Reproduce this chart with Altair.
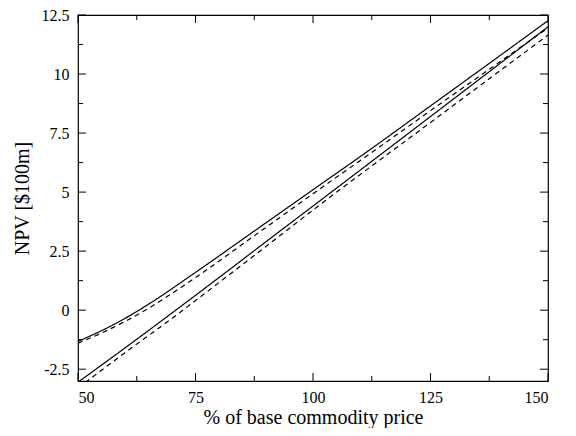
import altair as alt
import pandas as pd

# --- data ---
x_upper = [50, 55, 60, 65, 75, 87.5, 100, 112.5, 125, 137.5, 150]
upper_solid = [-1.32, -0.87, -0.35, 0.25, 1.60, 3.35, 5.10, 6.85, 8.65, 10.45, 12.26]
upper_dashed = [-1.40, -0.97, -0.48, 0.08, 1.38, 3.15, 4.93, 6.68, 8.45, 10.20, 11.95]

x_lower = [50, 60, 70, 80, 90, 100, 125, 150]
lower_solid = [-3.05, -1.60, -0.12, 1.38, 2.90, 4.41, 8.20, 12.00]
lower_dashed = [-3.30, -1.80, -0.35, 1.17, 2.70, 4.24, 7.95, 11.65]

x_major = [50, 75, 100, 125, 150]
x_minor = [62.5, 87.5, 112.5, 137.5]
y_major = [-2.5, 0, 2.5, 5, 7.5, 10, 12.5]
y_minor = [-1.25, 1.25, 3.75, 6.25, 8.75, 11.25]

W, H = 470, 366
FONT = "Liberation Serif"

rows = []
for name, xs, ys, style in [
    ("upper solid", x_upper, upper_solid, "solid"),
    ("upper dashed", x_upper, upper_dashed, "dashed"),
    ("lower solid", x_lower, lower_solid, "solid"),
    ("lower dashed", x_lower, lower_dashed, "dashed"),
]:
    for xv, yv in zip(xs, ys):
        rows.append({"x": xv, "y": yv, "series": name, "style": style})
df = pd.DataFrame(rows)

xscale = alt.Scale(domain=[50, 150], nice=False, zero=False)
yscale = alt.Scale(domain=[-3, 12.5], nice=False, zero=False)

lines = alt.Chart(df).mark_line(color="black", strokeWidth=1.2, clip=True,
                                interpolate="monotone").encode(
    x=alt.X("x:Q", scale=xscale,
            axis=alt.Axis(values=x_major, title="% of base commodity price",
                          labelPadding=8, titlePadding=2)),
    y=alt.Y("y:Q", scale=yscale,
            axis=alt.Axis(values=y_major, title="NPV [$100m]",
                          labelExpr="'' + datum.value",
                          labelPadding=9, titlePadding=9)),
    detail="series:N",
    strokeDash=alt.StrokeDash("style:N",
                              scale=alt.Scale(domain=["solid", "dashed"],
                                              range=[[1, 0], [5, 4]]),
                              legend=None),
    order="x:Q",
)

def xticks(vals, length):
    d = pd.DataFrame({"v": vals})
    bottom = alt.Chart(d).mark_rule(color="black", strokeWidth=1).encode(
        x=alt.X("v:Q", scale=xscale), y=alt.value(H), y2=alt.value(H - length))
    top = alt.Chart(d).mark_rule(color="black", strokeWidth=1).encode(
        x=alt.X("v:Q", scale=xscale), y=alt.value(0), y2=alt.value(length))
    return bottom + top

def yticks(vals, length):
    d = pd.DataFrame({"v": vals})
    left = alt.Chart(d).mark_rule(color="black", strokeWidth=1).encode(
        y=alt.Y("v:Q", scale=yscale), x=alt.value(0), x2=alt.value(length))
    right = alt.Chart(d).mark_rule(color="black", strokeWidth=1).encode(
        y=alt.Y("v:Q", scale=yscale), x=alt.value(W), x2=alt.value(W - length))
    return left + right

chart = alt.layer(
    lines,
    xticks(x_major, 8), xticks(x_minor, 5),
    yticks(y_major, 8), yticks(y_minor, 5),
).properties(
    width=W, height=H,
    autosize=alt.AutoSizeParams(type="none"),
    padding={"left": 70, "top": 7, "right": 20, "bottom": 47},
).configure_view(
    stroke="black", strokeWidth=1.2
).configure_axis(
    labelFont=FONT, labelFontSize=16, labelColor="black",
    titleFont=FONT, titleFontSize=20, titleFontWeight="normal", titleColor="black",
    domain=False, ticks=False, tickSize=0, grid=False,
)

chart.save("out.html", embed_options={"renderer": "svg", "actions": False})
